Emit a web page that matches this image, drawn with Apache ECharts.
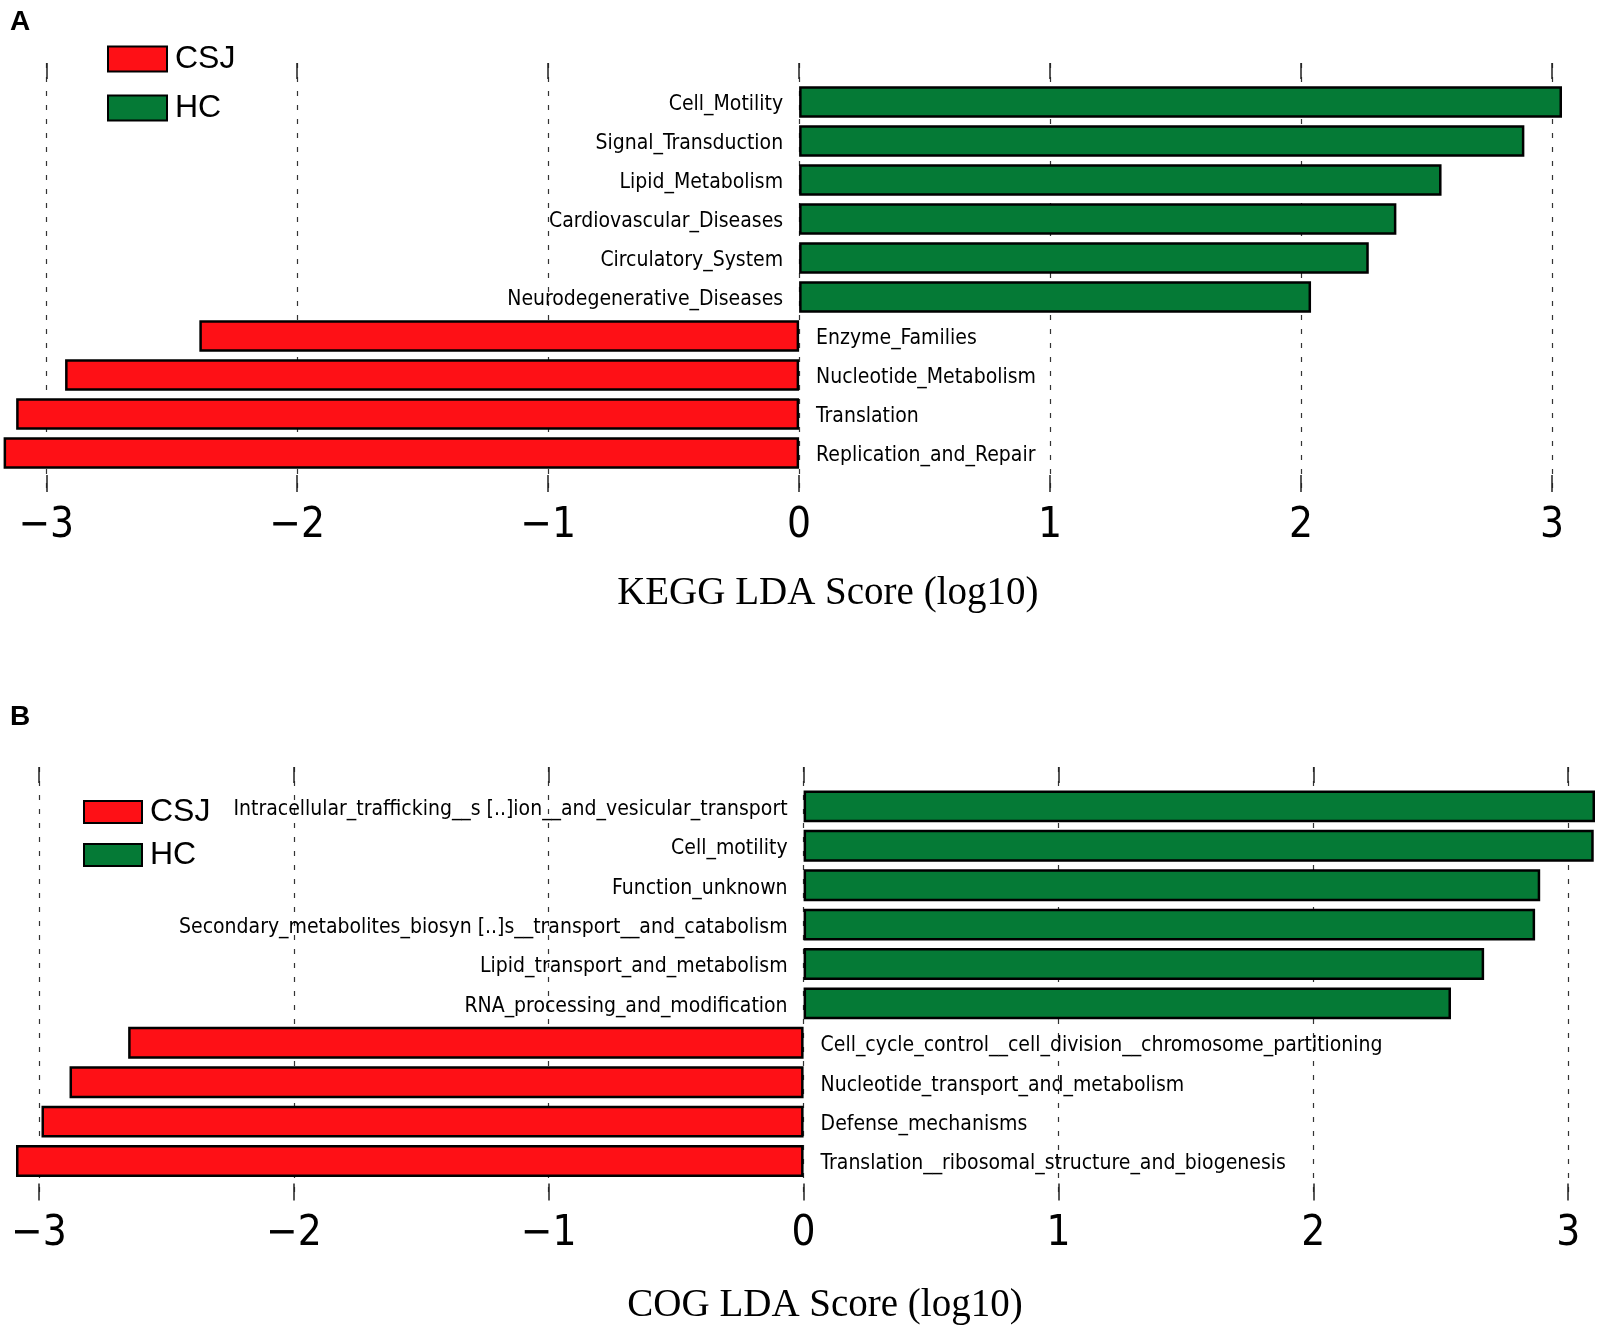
<!DOCTYPE html>
<html>
<head>
<meta charset="utf-8">
<script src="https://cdn.jsdelivr.net/npm/echarts@6/dist/echarts.min.js"></script>
<style>
  html, body { margin: 0; padding: 0; background: #fff; }
  #chart { width: 1600px; height: 1329px; }
</style>
</head>
<body>
<div id="chart"></div>
<script>
// ---- data ----
const groups = ['CSJ', 'HC'];
const keggCats = ['Cell_Motility', 'Signal_Transduction', 'Lipid_Metabolism', 'Cardiovascular_Diseases',
  'Circulatory_System', 'Neurodegenerative_Diseases', 'Enzyme_Families', 'Nucleotide_Metabolism',
  'Translation', 'Replication_and_Repair'];
const keggValues = [3.04, 2.89, 2.56, 2.38, 2.27, 2.04, -2.39, -2.925, -3.12, -3.17];
const cogCats = ['Intracellular_trafficking__s [..]ion__and_vesicular_transport', 'Cell_motility',
  'Function_unknown', 'Secondary_metabolites_biosyn [..]s__transport__and_catabolism',
  'Lipid_transport_and_metabolism', 'RNA_processing_and_modification',
  'Cell_cycle_control__cell_division__chromosome_partitioning', 'Nucleotide_transport_and_metabolism',
  'Defense_mechanisms', 'Translation__ribosomal_structure_and_biogenesis'];
const cogValues = [3.105, 3.10, 2.89, 2.87, 2.67, 2.54, -2.65, -2.88, -2.99, -3.09];
const tickValues = [-3, -2, -1, 0, 1, 2, 3];
const tickLabels = ['\u22123', '\u22122', '\u22121', '0', '1', '2', '3'];
const axisTitles = ['KEGG LDA Score (log10)', 'COG LDA Score (log10)'];
const panelLetters = ['A', 'B'];

// ---- styles ----
const RED = '#fe1016';
const GREEN = '#057a36';
const LABEL_FONT = '"DejaVu Sans Condensed", "Liberation Sans Narrow", "DejaVu Sans", sans-serif';
const TICK_FONT = '"DejaVu Sans Condensed", "DejaVu Sans", sans-serif';

const chart = echarts.init(document.getElementById('chart'), null, { renderer: 'canvas' });

const grids = [], xAxes = [], yAxes = [], series = [], legends = [], titles = [];

function addPanel(p, cats, vals, L) {
  const minV = Math.min(...vals), maxV = Math.max(...vals);
  const gOuter = grids.length;
  grids.push({ left: L.left, right: L.right, top: L.top, height: L.pitch * (cats.length + 1) });
  const gInner = grids.length;
  grids.push({ left: L.left, right: L.right, top: L.top + L.pitch / 2, height: L.pitch * cats.length });

  xAxes.push({
    gridIndex: gOuter, type: 'value', min: minV, max: maxV, position: 'bottom',
    axisLine: { show: false },
    axisTick: { show: true, inside: true, length: 17, customValues: tickValues,
      lineStyle: { color: '#222', width: 1.5 } },
    axisLabel: { show: true, customValues: tickValues, margin: 13,
      formatter: v => tickLabels[tickValues.indexOf(Math.round(v))],
      fontFamily: TICK_FONT, fontSize: 42, color: '#000' },
    splitLine: { show: true, lineStyle: { color: '#333', width: 1.2, type: [5, 9] } },
    name: axisTitles[p], nameLocation: 'middle', nameGap: L.nameGap,
    nameTextStyle: { fontFamily: '"Liberation Serif", "Times New Roman", serif', fontSize: 39,
      color: '#000', padding: [0, 0, 0, L.nameShift] }
  });
  xAxes.push({
    gridIndex: gOuter, type: 'value', min: minV, max: maxV, position: 'top',
    axisLine: { show: false },
    axisTick: { show: true, inside: true, length: 16, customValues: tickValues,
      lineStyle: { color: '#222', width: 1.5 } },
    axisLabel: { show: false }, splitLine: { show: false }
  });
  const xInner = xAxes.length;
  xAxes.push({ gridIndex: gInner, type: 'value', min: minV, max: maxV, show: false,
    splitLine: { show: false } });

  yAxes.push({ gridIndex: gOuter, type: 'value', min: 0, max: 1, show: false, splitLine: { show: false } });
  const yInner = yAxes.length;
  yAxes.push({ gridIndex: gInner, type: 'category', data: cats, inverse: true, show: false });

  const labelBase = { show: true, formatter: '{b}', fontFamily: LABEL_FONT, fontSize: 21,
    color: '#000', offset: [0, 3] };
  series.push({
    name: groups[1], type: 'bar', xAxisIndex: xInner, yAxisIndex: yInner,
    data: vals.map(v => (v > 0 ? v : '-')),
    barWidth: '81%', barGap: '-100%',
    itemStyle: { color: GREEN, borderColor: '#000', borderWidth: 2.5 },
    label: Object.assign({ position: 'left', distance: 16 }, labelBase),
    emphasis: { disabled: true }, animation: false
  });
  series.push({
    name: groups[0], type: 'bar', xAxisIndex: xInner, yAxisIndex: yInner,
    data: vals.map(v => (v < 0 ? v : '-')),
    barWidth: '81%', barGap: '-100%',
    itemStyle: { color: RED, borderColor: '#000', borderWidth: 2.5 },
    label: Object.assign({ position: 'right', distance: 17 }, labelBase),
    emphasis: { disabled: true }, animation: false
  });

  legends.push({
    data: groups, orient: 'vertical', left: L.legLeft, top: L.legTop, padding: 0,
    itemWidth: L.legW, itemHeight: L.legH, itemGap: L.legGap, icon: 'rect',
    selectedMode: false,
    textStyle: { fontFamily: '"Liberation Sans", Arial, sans-serif', fontSize: 32, color: '#000',
      padding: [0, 0, 0, 3] }
  });
  titles.push({ text: panelLetters[p], left: L.letterLeft, top: L.letterTop,
    textStyle: { fontFamily: '"Liberation Sans", Arial, sans-serif', fontWeight: 'bold', fontSize: 28, color: '#000' } });
}

addPanel(0, keggCats, keggValues, {
  left: 3.6, right: 38, top: 63, pitch: 39, nameGap: 82, nameShift: 90,
  legLeft: 107, legTop: 43, legW: 59, legH: 25, legGap: 17, letterLeft: 5, letterTop: 3
});
addPanel(1, cogCats, cogValues, {
  left: 16, right: 5, top: 767, pitch: 39.4, nameGap: 86, nameShift: 39,
  legLeft: 83, legTop: 796, legW: 58, legH: 22, legGap: 11, letterLeft: 5, letterTop: 698
});

chart.setOption({
  backgroundColor: '#fff',
  animation: false,
  title: titles,
  legend: legends,
  grid: grids,
  xAxis: xAxes,
  yAxis: yAxes,
  series: series
});
</script>
</body>
</html>
